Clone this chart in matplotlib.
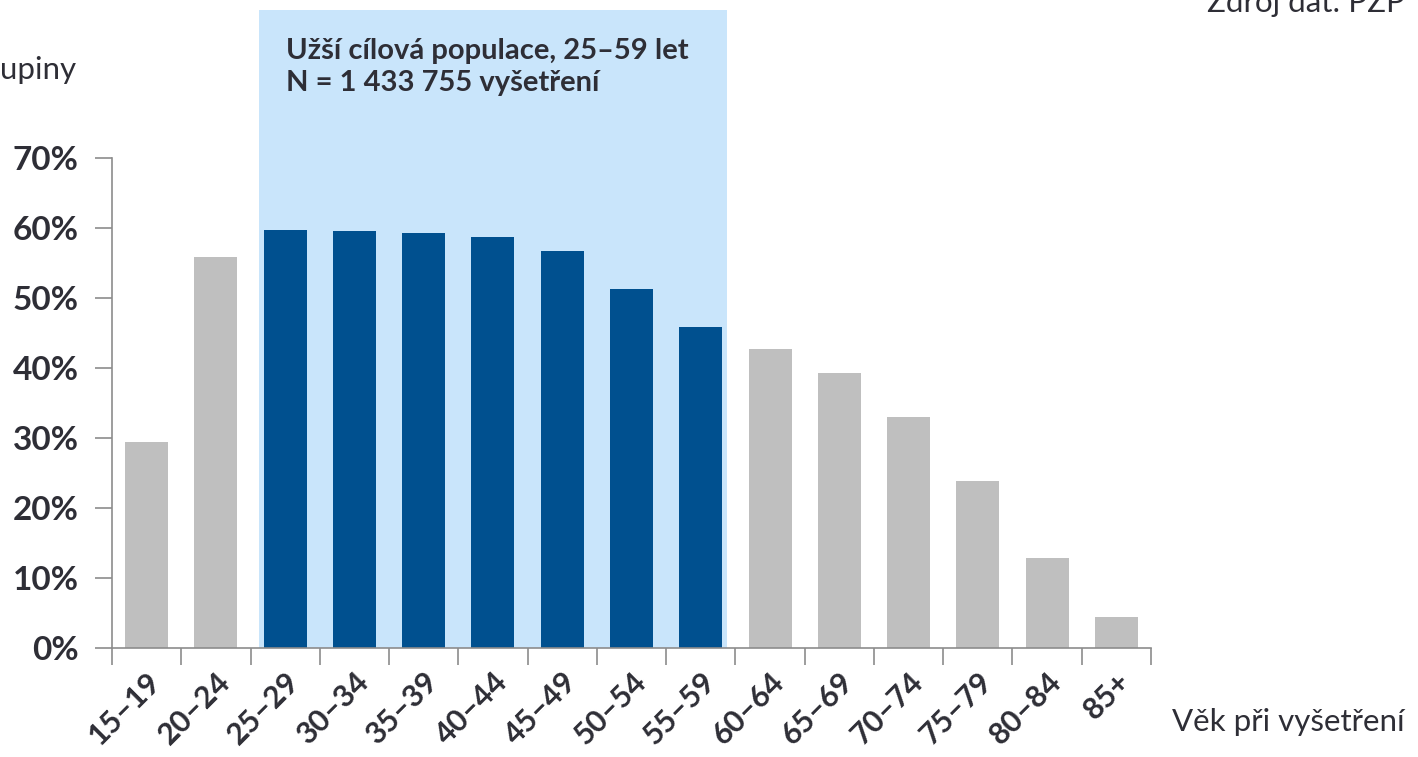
import matplotlib
matplotlib.use('Agg')
import matplotlib.pyplot as plt
from matplotlib.patches import Rectangle
import numpy as np

plt.rcParams['font.family'] = ['Lato', 'DejaVu Sans']

# Podíl pozitivních nálezů podle věkové skupiny (%)
vekove_skupiny = ['15–19', '20–24', '25–29', '30–34', '35–39', '40–44', '45–49',
                  '50–54', '55–59', '60–64', '65–69', '70–74', '75–79', '80–84', '85+']
podil = [29.4, 55.9, 59.7, 59.6, 59.3, 58.7, 56.7, 51.3, 45.9,
         42.7, 39.3, 33.0, 23.9, 12.9, 4.4]
cilova = [False, False, True, True, True, True, True, True, True,
          False, False, False, False, False, False]
y_ticks = [0, 10, 20, 30, 40, 50, 60, 70]

TEXT = '#2E2E36'
AXIS = '#8C8C8C'
BLUE = '#00508F'
GREY = '#BFBFBF'
HIGHLIGHT = '#C9E5FB'

fig = plt.figure(figsize=(14.18, 7.57), dpi=100)
ax = fig.add_axes([112 / 1418, 1 - 648 / 757, 1039 / 1418, 490 / 757])

x = np.arange(len(vekove_skupiny))
bar_w = 0.62

# zvýrazněné pásmo užší cílové populace
idx = [i for i, c in enumerate(cilova) if c]
left = idx[0] - bar_w / 2 - 0.07
right = idx[-1] + bar_w / 2 + 0.07
ax.add_patch(Rectangle((left, 0), right - left, 91.1, facecolor=HIGHLIGHT,
                       edgecolor='none', clip_on=False, zorder=0))
ax.text(left + 0.39, 87.2, 'Užší cílová populace, 25–59 let\nN = 1 433 755 vyšetření',
        ha='left', va='top', fontsize=21, fontweight='bold', color=TEXT,
        linespacing=1.3)

colors = [BLUE if c else GREY for c in cilova]
ax.bar(x, podil, width=bar_w, color=colors, zorder=2)

ax.set_xlim(-0.5, len(vekove_skupiny) - 0.5)
ax.set_ylim(0, 70)

for s in ['top', 'right']:
    ax.spines[s].set_visible(False)
for s in ['left', 'bottom']:
    ax.spines[s].set_color(AXIS)
    ax.spines[s].set_linewidth(1.2)

ax.set_yticks(y_ticks)
ax.set_yticklabels([f'{v}%' for v in y_ticks])
ax.tick_params(axis='y', length=12, width=1.2, color=AXIS, pad=12,
               labelsize=24, labelcolor=TEXT)
for lbl in ax.get_yticklabels():
    lbl.set_fontweight('bold')

# hranice kategorií jako hlavní ticky, popisky na středech
ax.set_xticks(np.arange(-0.5, len(vekove_skupiny), 1.0))
ax.set_xticklabels([])
ax.tick_params(axis='x', which='major', length=12, width=1.2, color=AXIS)
ax.set_xticks(x, minor=True)
ax.set_xticklabels(vekove_skupiny, minor=True, rotation=45, ha='right',
                   rotation_mode='anchor', fontsize=22, fontweight='bold',
                   color=TEXT)
ax.tick_params(axis='x', which='minor', length=0, pad=14)

fig.text(1405 / 1418, 1 - 722 / 757, 'Věk při vyšetření', ha='right', va='center',
         fontsize=22.5, color=TEXT)
fig.text(0, 1 - 70 / 757, 'upiny', ha='left', va='center', fontsize=22.5, color=TEXT)
fig.text(1405 / 1418, 1 - 3 / 757, 'Zdroj dat: PZP', ha='right', va='center',
         fontsize=22.5, color=TEXT)

fig.savefig('out.png', dpi=100)
plt.close(fig)
